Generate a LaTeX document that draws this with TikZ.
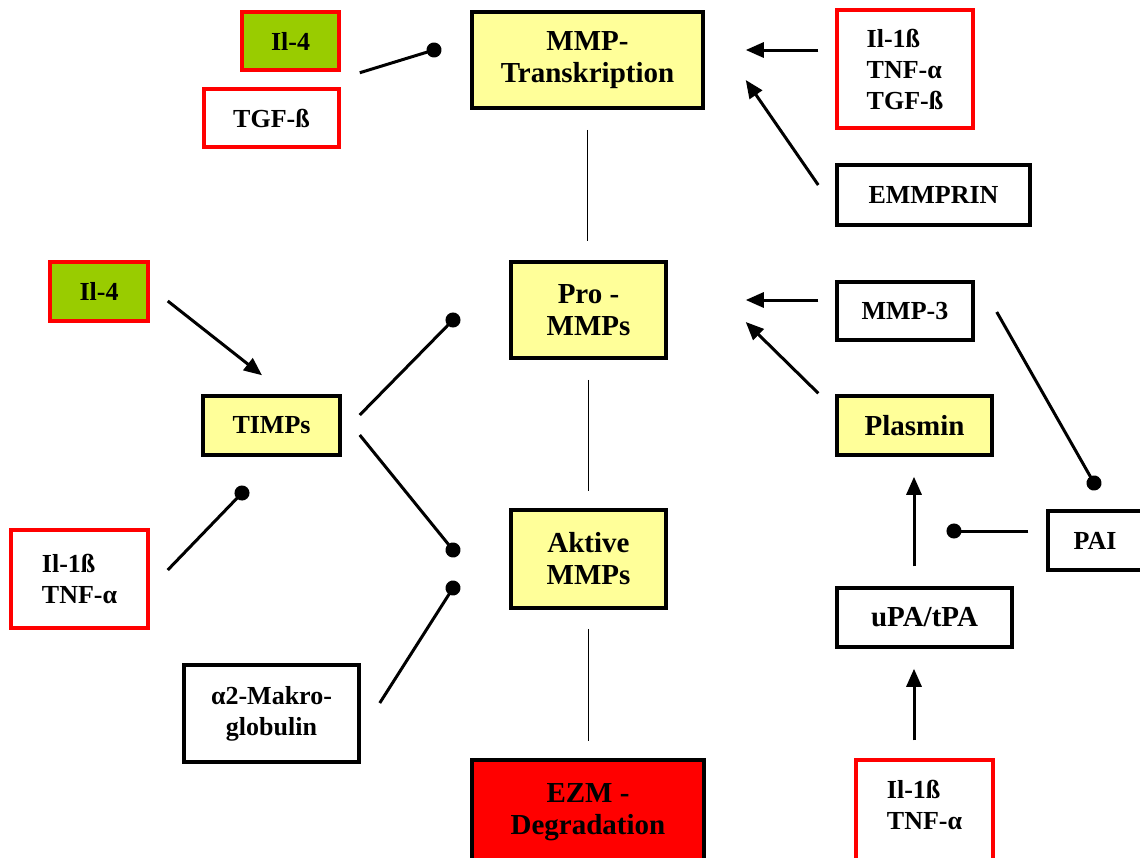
\documentclass[tikz,border=0pt]{standalone}
\usepackage{fontspec}
\setmainfont{Liberation Serif}
\definecolor{mmpyellow}{HTML}{FFFF99}
\definecolor{ilgreen}{HTML}{99CC00}
\definecolor{ezmred}{HTML}{FF0000}
\usetikzlibrary{arrows.meta,positioning,calc}

\begin{document}
\begin{tikzpicture}[
x=1pt, y=-1pt,
box/.style={rectangle, draw=black, line width=3.5pt, inner sep=0pt, font=\fontsize{26}{31}\selectfont\bfseries, align=center},
cytobox/.style={box, draw=ezmred, fill=white, align=left},
bigbox/.style={box, fill=mmpyellow, font=\fontsize{29}{32}\selectfont\bfseries},
arrow/.style={-{Triangle[length=18pt,width=15pt]}, line width=3pt, black},
inhib/.style={-{Circle[length=15pt]}, line width=3pt, black, shorten >=-7.5pt},
link/.style={line width=1.2pt, black}
]
\useasboundingbox (0,0) rectangle (1140,857);

% middle column
\node (mmpt) [bigbox, minimum width=231pt, minimum height=96pt] at (587.5,60) {MMP-\\Transkription};
\node (prommp) [bigbox, minimum width=155pt, minimum height=96pt] at (588.5,310) {Pro -\\MMPs};
\node (aktive) [bigbox, minimum width=155pt, minimum height=98pt] at (588.5,559) {Aktive\\MMPs};
\node (ezm) [bigbox, fill=ezmred, minimum width=232pt, minimum height=104pt] at (588,812) {EZM -\\Degradation};

% left side
\node (il4a) [cytobox, fill=ilgreen, minimum width=97pt, minimum height=58pt] at (290.5,41) {Il-4};
\node (tgf) [cytobox, minimum width=135pt, minimum height=58pt] at (271.5,118) {TGF-ß};
\node (il4b) [cytobox, fill=ilgreen, minimum width=98pt, minimum height=59pt] at (99,291.5) {Il-4};
\node (timps) [box, fill=mmpyellow, minimum width=137pt, minimum height=59pt] at (271.5,425.5) {TIMPs};
\node (cytob) [cytobox, minimum width=137pt, minimum height=98pt] at (79.5,579) {Il-1ß\\TNF-α};
\node (makro) [box, minimum width=175pt, minimum height=97pt] at (271.5,713.5) {α2-Makro-\\globulin};

% right side
\node (cyto) [cytobox, minimum width=136pt, minimum height=118pt] at (905,69) {Il-1ß\\TNF-α\\TGF-ß};
\node (emmprin) [box, minimum width=193pt, minimum height=60pt] at (933.5,195) {EMMPRIN};
\node (mmp3) [box, minimum width=136pt, minimum height=58pt] at (905,311) {MMP-3};
\node (plasmin) [box, fill=mmpyellow, minimum width=155pt, minimum height=59pt, font=\fontsize{29}{32}\selectfont\bfseries] at (914.5,425.5) {Plasmin};
\node (pai) [box, minimum width=94pt, minimum height=59pt] at (1095,540.5) {PAI};
\node (upa) [box, minimum width=175pt, minimum height=59pt, font=\fontsize{29}{32}\selectfont\bfseries] at (924.5,617.5) {uPA/tPA};
\node (cytoc) [cytobox, minimum width=137pt, minimum height=103pt, text depth=13pt] at (924.5,811.5) {Il-1ß\\TNF-α};

% free ends of the inhibitions
\coordinate (dottrans) at (434,50);
\coordinate (dotpro) at (453,320);
\coordinate (dotakt) at (453,550);
\coordinate (dotakt2) at (453,588);
\coordinate (dottimps) at (242,493);
\coordinate (dotpai) at (1094,483);
\coordinate (dotplas) at (954,531);

% vertical links
\draw [link, shorten <=20pt, shorten >=19pt] (mmpt.south) -- (mmpt.south |- prommp.north);
\draw [link, shorten <=20pt, shorten >=17pt] (prommp.south) -- (prommp.south |- aktive.north);
\draw [link, shorten <=19pt, shorten >=17pt] (aktive.south) -- (aktive.south |- ezm.north);

% activation
\draw [arrow] ([shift={(-17,-19)}]cyto.west) -- ([shift={(41,-10)}]mmpt.east);
\draw [arrow] ([shift={(-17,-10)}]emmprin.west) -- ([shift={(41,20)}]mmpt.east);
\draw [arrow] ([shift={(-17,-11)}]mmp3.west) -- ([shift={(78,-10)}]prommp.east);
\draw [arrow] ([shift={(-17,-1)}]plasmin.north west) -- ([shift={(78,12)}]prommp.east);
\draw [arrow] ([shift={(18,9.5)}]il4b.east) -- ([shift={(-9.5,-19)}]timps.north);
\draw [arrow] ([shift={(-10.5,-20)}]upa.north) -- ([shift={(-0.5,20)}]plasmin.south);
\draw [arrow] ([shift={(-10.5,-18)}]cytoc.north) -- ([shift={(-10.5,20)}]upa.south);

% inhibition
\draw [inhib] ([shift={(19,1)}]il4a.south east) -- (dottrans);
\draw [inhib] ([shift={(18,-10.5)}]timps.east) -- (dotpro);
\draw [inhib] ([shift={(18,9.5)}]timps.east) -- (dotakt);
\draw [inhib] ([shift={(18,-9)}]cytob.east) -- (dottimps);
\draw [inhib] ([shift={(19,-10.5)}]makro.east) -- (dotakt2);
\draw [inhib] ([shift={(22,1)}]mmp3.east) -- (dotpai);
\draw [inhib] ([shift={(-18,-9.5)}]pai.west) -- (dotplas);
\end{tikzpicture}
\end{document}
